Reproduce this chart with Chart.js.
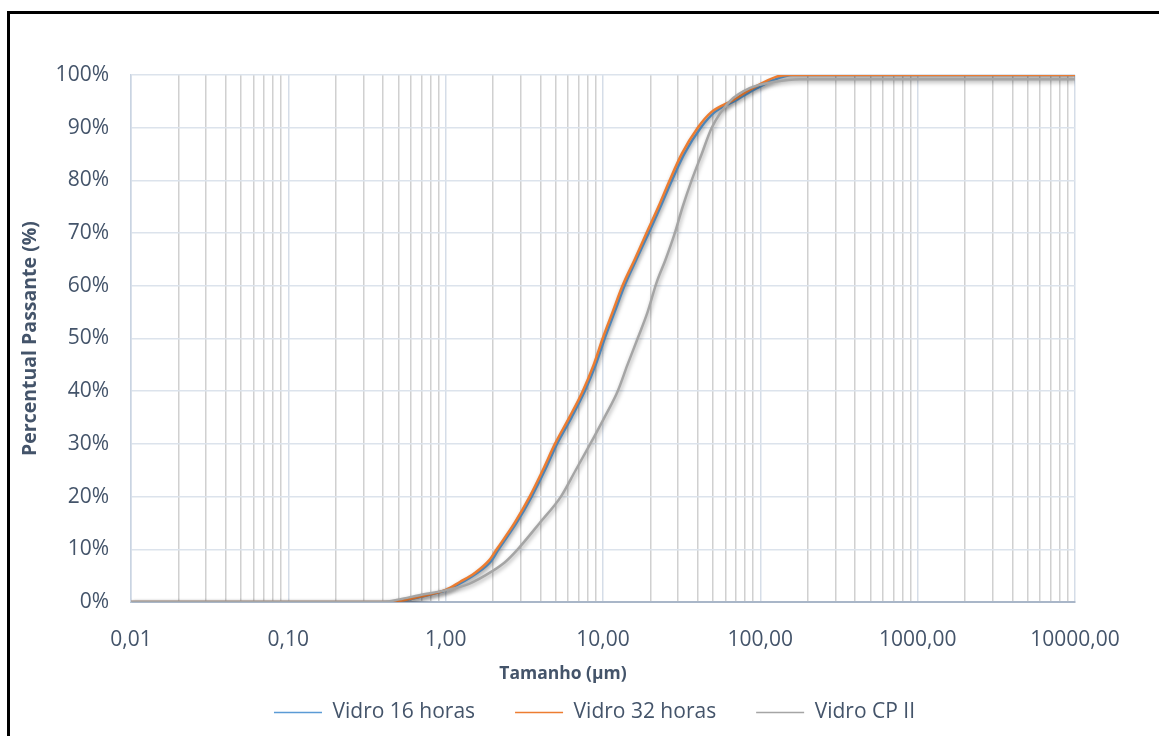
<!DOCTYPE html>
<html lang="pt">

<head>
    <meta charset="UTF-8">
    <title>Distribuição granulométrica</title>
    <style>
        body { margin: 0; background: #fff; }
        #frame { position: absolute; left: 7px; top: 11px; width: 1300px; height: 900px; border-left: 3px solid #000; border-top: 3px solid #000; }
        #chartCanvas { position: absolute; left: 0; top: 0; }
    </style>
</head>

<body>
    <div id="frame"></div>
    <canvas id="chartCanvas" width="1159" height="736"></canvas>

    <script src="https://cdn.jsdelivr.net/npm/chart.js"></script>

    <script>
        // tick labels of the log axis (Excel style, comma decimals)
        const xTickLabels = ['0,01', '0,10', '1,00', '10,00', '100,00', '1000,00', '10000,00'];
        const decades = [0.01, 0.1, 1, 10, 100, 1000, 10000];

        // Vidro 16 horas
        const sizes16 = [0.01, 0.45, 0.52, 0.69, 1.0, 1.25, 1.55, 1.95, 2.17, 2.82, 3.52, 4.27, 5.1, 6.3, 7.65, 8.98, 10.25, 11.85, 13.7, 16.3, 19.5, 23.2, 27.4, 32.8, 41.8, 51.5, 70, 95, 120, 160, 10000];
        const pass16 = [0, 0, 0.2, 1, 2.2, 3.6, 5.3, 7.8, 10, 15, 20, 25, 30, 35, 40, 45, 50, 55, 60, 65, 70, 75, 80, 85, 90, 93, 95.2, 97.5, 99, 100, 100];

        // Vidro 32 horas
        const sizes32 = [0.01, 0.447, 0.51, 0.68, 1.0, 1.23, 1.53, 1.90, 2.11, 2.74, 3.42, 4.14, 4.95, 6.1, 7.43, 8.72, 9.95, 11.5, 13.3, 15.9, 18.9, 22.5, 26.5, 31.6, 40, 49, 66.7, 89.4, 127, 153, 10000];
        const pass32 = [0, 0, 0.2, 1, 2.3, 3.8, 5.5, 8, 10, 15, 20, 25, 30, 35, 40, 45, 50, 55, 60, 65, 70, 75, 80, 85, 90, 93, 95.2, 97.5, 99.7, 100, 100];

        // Vidro CP II
        const sizesCP = [0.01, 0.40, 0.51, 0.68, 1.0, 1.42, 1.99, 2.37, 2.87, 3.96, 5.4, 6.7, 8.3, 10.2, 12.4, 14.3, 16.6, 19.2, 21.9, 25.0, 28.6, 32.1, 36.6, 42.4, 49.1, 63.9, 85.5, 123, 178, 10000];
        const passCP = [0, 0, 0.5, 1.3, 2.2, 3.5, 5.9, 7.5, 10, 15, 20, 25, 30, 35, 40, 45, 50, 55, 60.6, 65, 70, 75, 80, 85, 90, 95, 97.5, 98.7, 99.2, 99.2];

        const toPoints = (xs, ys) => xs.map((x, i) => ({ x: x, y: ys[i] }));

        // gridlines at 1..9 x each decade
        const gridValues = [];
        decades.slice(0, -1).forEach(d => {
            for (let m = 1; m <= 9; m++) gridValues.push(+(m * d).toPrecision(3));
        });
        gridValues.push(10000);

        const textColor = '#44546a';
        const font = 'Open Sans';

        // soft shadow under the lines, like the Excel original
        const lineShadow = {
            id: 'lineShadow',
            beforeDatasetsDraw(chart) {
                const c = chart.ctx;
                c.save();
                c.shadowColor = 'rgba(0,0,0,0.35)';
                c.shadowBlur = 4;
                c.shadowOffsetX = 1;
                c.shadowOffsetY = 2;
            },
            afterDatasetsDraw(chart) {
                chart.ctx.restore();
            }
        };

        // Excel puts the legend and the x title a bit off the plot centre
        const excelLayout = {
            id: 'excelLayout',
            afterLayout(chart) {
                const lg = chart.legend;
                lg.top -= 24; lg.bottom -= 24;
                lg.left += 51; lg.right += 51;
                const x = chart.scales.x;
                if (!x._titlePatched) {
                    const orig = x.drawTitle;
                    x.drawTitle = function () {
                        this.ctx.save();
                        this.ctx.translate(-40, 2);
                        orig.call(this);
                        this.ctx.restore();
                    };
                    x._titlePatched = true;
                }
            }
        };

        const ctx = document.getElementById('chartCanvas').getContext('2d');
        new Chart(ctx, {
            type: 'line',
            data: {
                datasets: [{
                    label: 'Vidro 16 horas',
                    data: toPoints(sizes16, pass16),
                    borderColor: '#5b9bd5',
                    order: 3
                }, {
                    label: 'Vidro 32 horas',
                    data: toPoints(sizes32, pass32),
                    borderColor: '#ed7d31',
                    order: 2
                }, {
                    label: 'Vidro CP II',
                    data: toPoints(sizesCP, passCP),
                    borderColor: '#a5a5a5',
                    order: 1
                }]
            },
            options: {
                responsive: false,
                animation: false,
                layout: { padding: { left: 12, top: 75, right: 84, bottom: -21 } },
                elements: {
                    line: { borderWidth: 2.5, cubicInterpolationMode: 'monotone', fill: false },
                    point: { radius: 0 }
                },
                plugins: {
                    tooltip: { enabled: false },
                    legend: {
                        position: 'bottom',
                        labels: {
                            usePointStyle: true,
                            pointStyle: 'line',
                            pointStyleWidth: 48,
                            padding: 40,
                            color: textColor,
                            font: { family: font, size: 21 },
                            generateLabels(chart) {
                                const items = Chart.defaults.plugins.legend.labels.generateLabels(chart);
                                items.forEach(it => { it.lineWidth = 1.5; });
                                return items.sort((a, b) => a.datasetIndex - b.datasetIndex);
                            }
                        }
                    }
                },
                scales: {
                    x: {
                        type: 'logarithmic',
                        min: 0.01,
                        max: 10000,
                        afterBuildTicks(axis) {
                            axis.ticks = gridValues.map(v => ({ value: v }));
                        },
                        afterFit(axis) { axis.height = 84; },
                        ticks: {
                            autoSkip: false,
                            maxRotation: 0,
                            padding: 25,
                            color: textColor,
                            font: { family: font, size: 21 },
                            callback: (v, i) => (i % 9 === 0 ? xTickLabels[i / 9] : '')
                        },
                        grid: {
                            drawTicks: false,
                            lineWidth: 1.5,
                            color: c => (c.index % 9 === 0 ? '#d5dde8' : '#d0d0d0')
                        },
                        border: { color: '#a9b6c8', width: 2 },
                        title: {
                            display: true,
                            text: 'Tamanho (µm)',
                            color: textColor,
                            font: { family: font, size: 17.5, weight: 'bold' },
                            padding: { top: 0, bottom: 3 }
                        }
                    },
                    y: {
                        min: 0,
                        max: 100,
                        afterFit(axis) { axis.width = 119; },
                        ticks: {
                            stepSize: 10,
                            padding: 22,
                            color: textColor,
                            font: { family: font, size: 21 },
                            callback: v => v + '%'
                        },
                        grid: { drawTicks: false, color: '#dce3ec', lineWidth: 1.5 },
                        border: { color: '#c9d4e2', width: 1.5 },
                        title: {
                            display: true,
                            text: 'Percentual Passante (%)',
                            color: textColor,
                            font: { family: font, size: 19.5, weight: 'bold' },
                            padding: { top: 7, bottom: 0 }
                        }
                    }
                }
            },
            plugins: [lineShadow, excelLayout]
        });
    </script>

</body>

</html>
